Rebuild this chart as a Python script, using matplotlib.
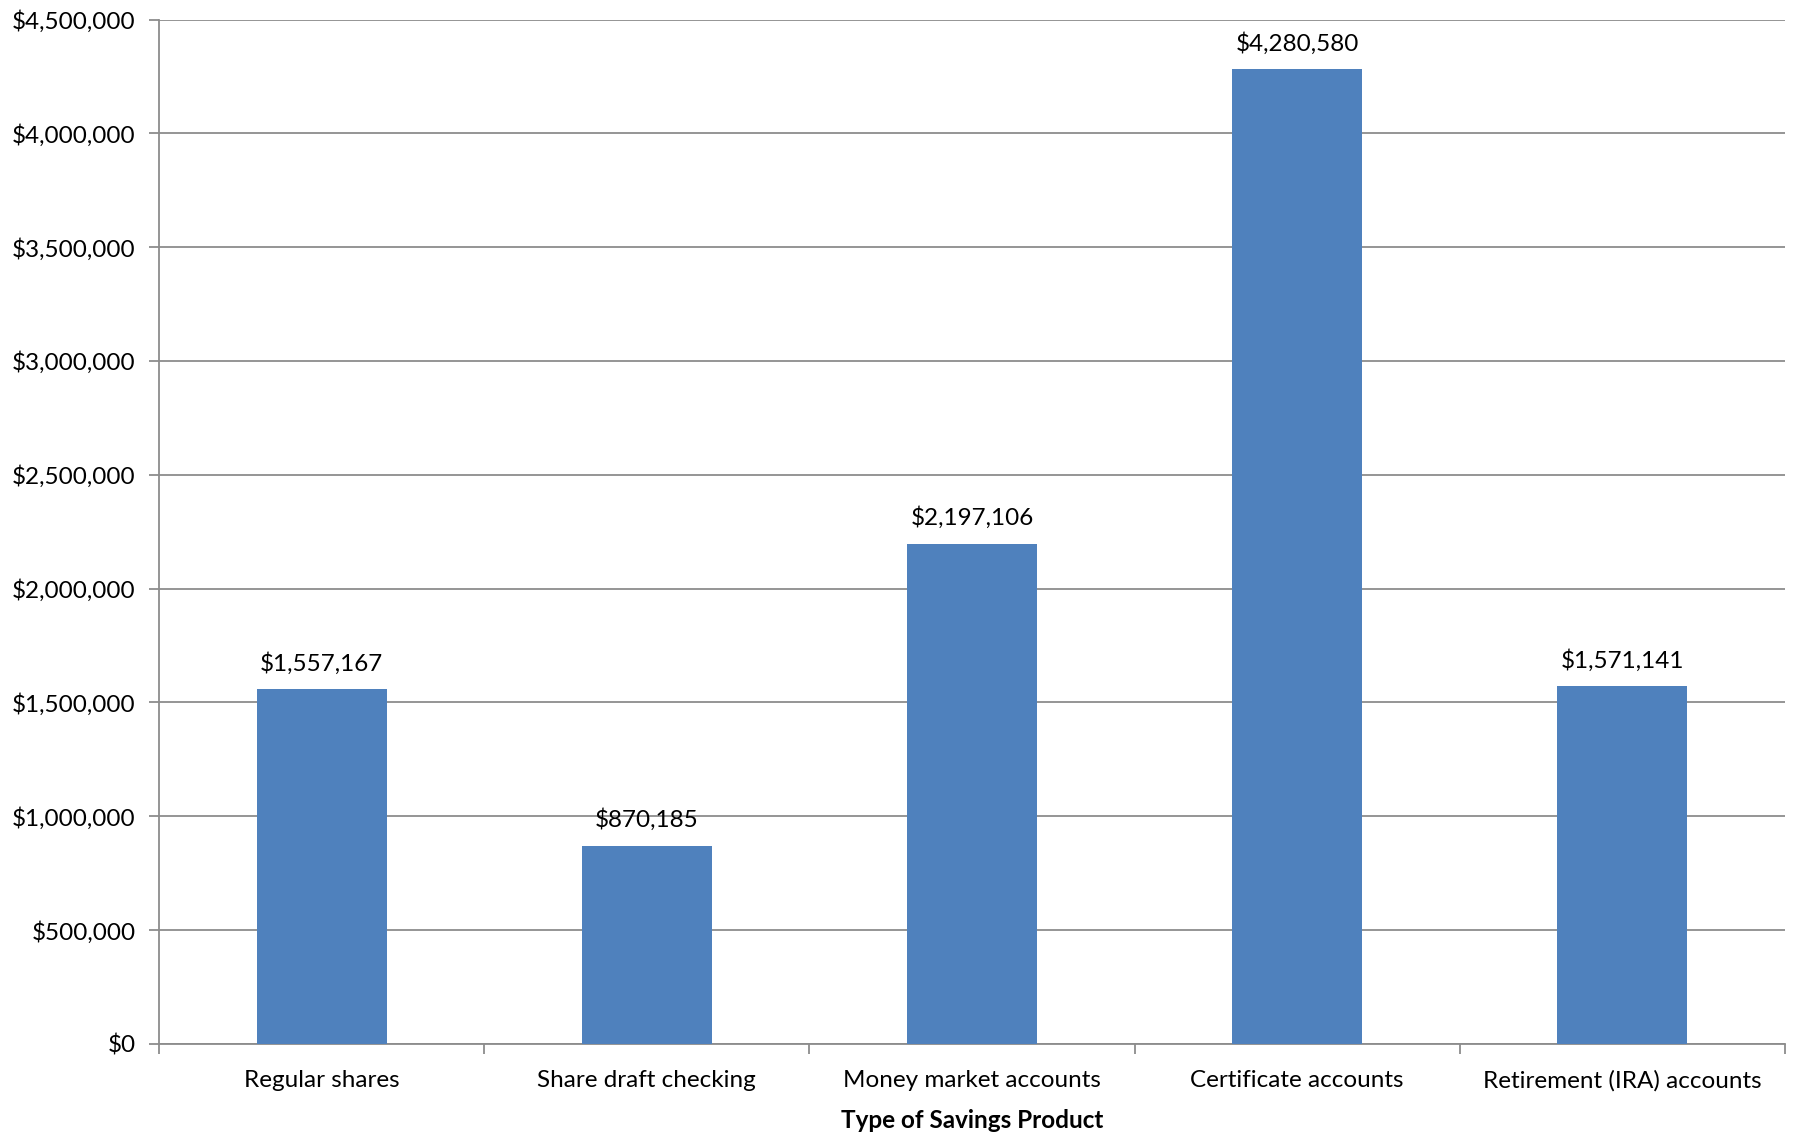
import matplotlib
matplotlib.use("Agg")
import matplotlib.pyplot as plt
from matplotlib.ticker import FuncFormatter, FixedLocator, MultipleLocator

categories = ["Regular shares", "Share draft checking", "Money market accounts",
              "Certificate accounts", "Retirement (IRA) accounts"]
values = [1557167, 870185, 2197106, 4280580, 1571141]

plt.rcParams['font.family'] = ['Lato', 'DejaVu Sans']
FS = 17.5

fig = plt.figure(figsize=(17.95, 11.35), dpi=100)
ax = fig.add_axes([0.0886, 0.0802, 0.9058, 0.9026])

x = list(range(len(categories)))
bars = ax.bar(x, values, width=0.4, color="#4F81BD", zorder=3)

for xi, v in zip(x, values):
    ax.annotate(f"${v:,.0f}", (xi, v), xytext=(0, 10.5), textcoords="offset points",
                ha="center", va="bottom", fontsize=FS, color="black", zorder=4)

ax.set_xlim(-0.5, len(categories) - 0.5)
ax.set_ylim(0, 4500000)
ax.yaxis.set_major_locator(MultipleLocator(500000))
ax.yaxis.set_major_formatter(FuncFormatter(lambda v, p: f"${v:,.0f}"))
ax.grid(axis="y", color="#8C8C8C", linewidth=1.3, zorder=0)

ax.set_xticks(x)
ax.set_xticklabels(categories)
ax.xaxis.set_minor_locator(FixedLocator([i - 0.5 for i in range(len(categories) + 1)]))
ax.tick_params(axis="x", which="major", length=0, pad=18.5, labelsize=FS)
ax.tick_params(axis="x", which="minor", length=7, width=1.3, color="#8C8C8C", direction="out")
ax.tick_params(axis="y", length=7, width=1.3, color="#8C8C8C", direction="out", labelsize=FS, pad=10)

for side in ["top", "right"]:
    ax.spines[side].set_visible(False)
for side in ["left", "bottom"]:
    ax.spines[side].set_color("#8C8C8C")
    ax.spines[side].set_linewidth(1.3)

ax.set_xlabel("Type of Savings Product", fontsize=FS, fontweight="bold", labelpad=13)

fig.savefig("out.png", dpi=100, facecolor="white")
